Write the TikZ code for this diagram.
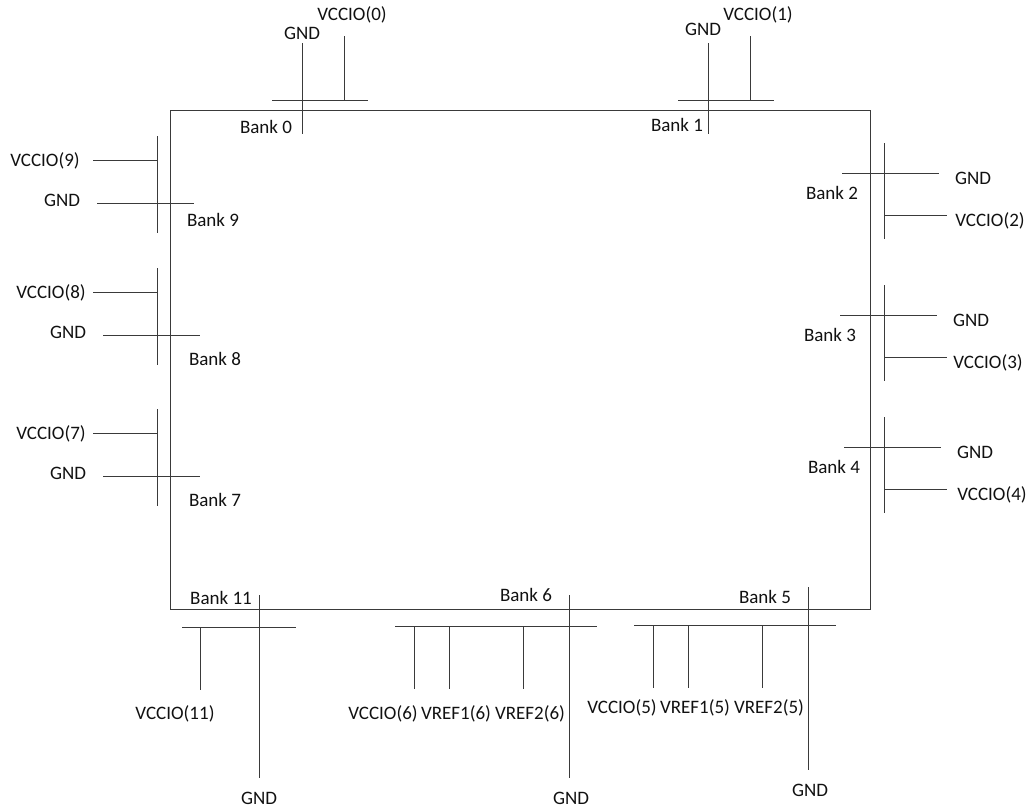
\documentclass[tikz,border=0pt]{standalone}
\usepackage{fontspec}
\setmainfont{Carlito}
\usepackage{xcolor}
\usetikzlibrary{positioning}
\definecolor{wireInk}{HTML}{3A3A3A}
\definecolor{bodyText}{HTML}{111111}

\begin{document}
\begin{tikzpicture}[
  x=1pt, y=-1pt,
  every node/.style={font=\fontsize{19}{21}\selectfont, text=bodyText,
                     inner sep=0pt, text height=12pt, text depth=0pt},
  chip/.style={draw=wireInk, line width=1pt},
  wire/.style={draw=wireInk, line width=1pt},
  pinlbl/.style={anchor=center},
  banklbl/.style={anchor=center},
]
  \useasboundingbox (0,0) rectangle (1033,807);

  % ═══ Device outline ═══
  \coordinate (chip_nw) at (170,110);
  \coordinate (chip_se) at (870,609);
  \draw[chip] (chip_nw) rectangle (chip_se);

  % ═══ Top banks (0, 1): GND pierces the edge, VCCIO hangs off the bar ═══
  \foreach \n/\x/\gx/\gy/\bx/\by in {0/302/302/33/266/127, 1/708/703/29/677/125} {
    \coordinate (b\n_gnd_top) at (\x, 43);
    \coordinate (b\n_gnd_bot) at (\x, 134);
    \coordinate (b\n_bar_l)   at (\x-30, 100);
    \coordinate (b\n_bar_r)   at (\x+66, 100);
    \coordinate (b\n_vcc_top) at (\x+42, 36);
    \coordinate (b\n_vcc_bot) at (\x+42, 100);
    \draw[wire] (b\n_gnd_top) -- (b\n_gnd_bot);
    \draw[wire] (b\n_bar_l) -- (b\n_bar_r);
    \draw[wire] (b\n_vcc_top) -- (b\n_vcc_bot);
    \node[pinlbl]  (b\n_gnd) at (\gx, \gy) {GND};
    \node[pinlbl]  (b\n_vcc) at (\x+50, 14) {VCCIO(\n)};
    \node[banklbl] (b\n_lbl) at (\bx, \by) {Bank \n};
  }

  % ═══ Left banks (9, 8, 7) ═══
  % \y = VCCIO wire, GND wire sits 43 below it
  \foreach \n/\y/\lx/\gx/\bx/\by in {9/160/45/97/213/220, 8/292/51/103/215/359, 7/433/51/103/215/500} {
    \coordinate (b\n_bus_top) at (157, \y-24);
    \coordinate (b\n_bus_bot) at (157, \y+73);
    \coordinate (b\n_vcc_end) at (93, \y);
    \coordinate (b\n_vcc_tap) at (157, \y);
    \coordinate (b\n_gnd_l)   at (\gx, \y+43);
    \coordinate (b\n_gnd_r)   at (\gx+97, \y+43);
    \draw[wire] (b\n_bus_top) -- (b\n_bus_bot);
    \draw[wire] (b\n_vcc_end) -- (b\n_vcc_tap);
    \draw[wire] (b\n_gnd_l) -- (b\n_gnd_r);
    \node[pinlbl]  (b\n_vcc) at (\lx, \y) {VCCIO(\n)};
    \node[pinlbl]  (b\n_gnd) at (\lx+17, \y+40) {GND};
    \node[banklbl] (b\n_lbl) at (\bx, \by) {Bank \n};
  }

  % ═══ Right banks (2, 3, 4) ═══
  % \g = GND wire, VCCIO wire sits 42 below it
  \foreach \n/\g/\hx in {2/173/842, 3/315/840, 4/447/844} {
    \coordinate (b\n_bus_top) at (884, \g-30);
    \coordinate (b\n_bus_bot) at (884, \g+66);
    \coordinate (b\n_gnd_l)   at (\hx, \g);
    \coordinate (b\n_gnd_r)   at (\hx+97, \g);
    \coordinate (b\n_vcc_tap) at (884, \g+42);
    \coordinate (b\n_vcc_end) at (947, \g+42);
    \draw[wire] (b\n_bus_top) -- (b\n_bus_bot);
    \draw[wire] (b\n_gnd_l) -- (b\n_gnd_r);
    \draw[wire] (b\n_vcc_tap) -- (b\n_vcc_end);
    \node[pinlbl]  (b\n_gnd) at (\hx+131, \g+5) {GND};
    \node[pinlbl]  (b\n_vcc) at (\hx+148, \g+47) {VCCIO(\n)};
    \node[banklbl] (b\n_lbl) at (\hx-10, \g+20) {Bank \n};
  }

  % ═══ Bottom-left bank 11 ═══
  \coordinate (b11_gnd_top) at (259, 595);
  \coordinate (b11_gnd_bot) at (259, 778);
  \coordinate (b11_bar_l)   at (182, 627);
  \coordinate (b11_bar_r)   at (296, 627);
  \coordinate (b11_vcc_top) at (200, 627);
  \coordinate (b11_vcc_bot) at (200, 690);
  \draw[wire] (b11_gnd_top) -- (b11_gnd_bot);
  \draw[wire] (b11_bar_l) -- (b11_bar_r);
  \draw[wire] (b11_vcc_top) -- (b11_vcc_bot);
  \node[pinlbl]  (b11_vcc) at (175, 713) {VCCIO(11)};
  \node[pinlbl]  (b11_gnd) at (259, 798) {GND};
  \node[banklbl] (b11_lbl) at (221, 598) {Bank 11};

  % ═══ Bottom banks (6, 5): VCCIO + two VREF pins off one bar ═══
  % \gy = top of GND wire, \ry = bar, \ly = pin labels
  \foreach \n/\g/\gy/\ry/\ly/\by in {6/569/595/626/713/595, 5/808/587/625/707/597} {
    \coordinate (b\n_gnd_top) at (\g, \gy);
    \coordinate (b\n_gnd_bot) at (\g, \gy+183);
    \coordinate (b\n_bar_l)   at (\g-174, \ry);
    \coordinate (b\n_bar_r)   at (\g+28, \ry);
    \draw[wire] (b\n_gnd_top) -- (b\n_gnd_bot);
    \draw[wire] (b\n_bar_l) -- (b\n_bar_r);
    \foreach \pin/\dx in {vcc/155, vrefa/120, vrefb/46} {
      \coordinate (b\n_\pin_top) at (\g-\dx, \ry);
      \coordinate (b\n_\pin_bot) at (\g-\dx, \ry+63);
      \draw[wire] (b\n_\pin_top) -- (b\n_\pin_bot);
    }
    \node[pinlbl]  (b\n_vcc)   at (\g-186, \ly) {VCCIO(\n)};
    \node[pinlbl]  (b\n_vrefa) at (\g-113, \ly) {VREF1(\n)};
    \node[pinlbl]  (b\n_vrefb) at (\g-39, \ly) {VREF2(\n)};
    \node[pinlbl]  (b\n_gnd)   at (\g+2, \gy+203) {GND};
    \node[banklbl] (b\n_lbl)   at (\g-43, \by) {Bank \n};
  }
\end{tikzpicture}
\end{document}
